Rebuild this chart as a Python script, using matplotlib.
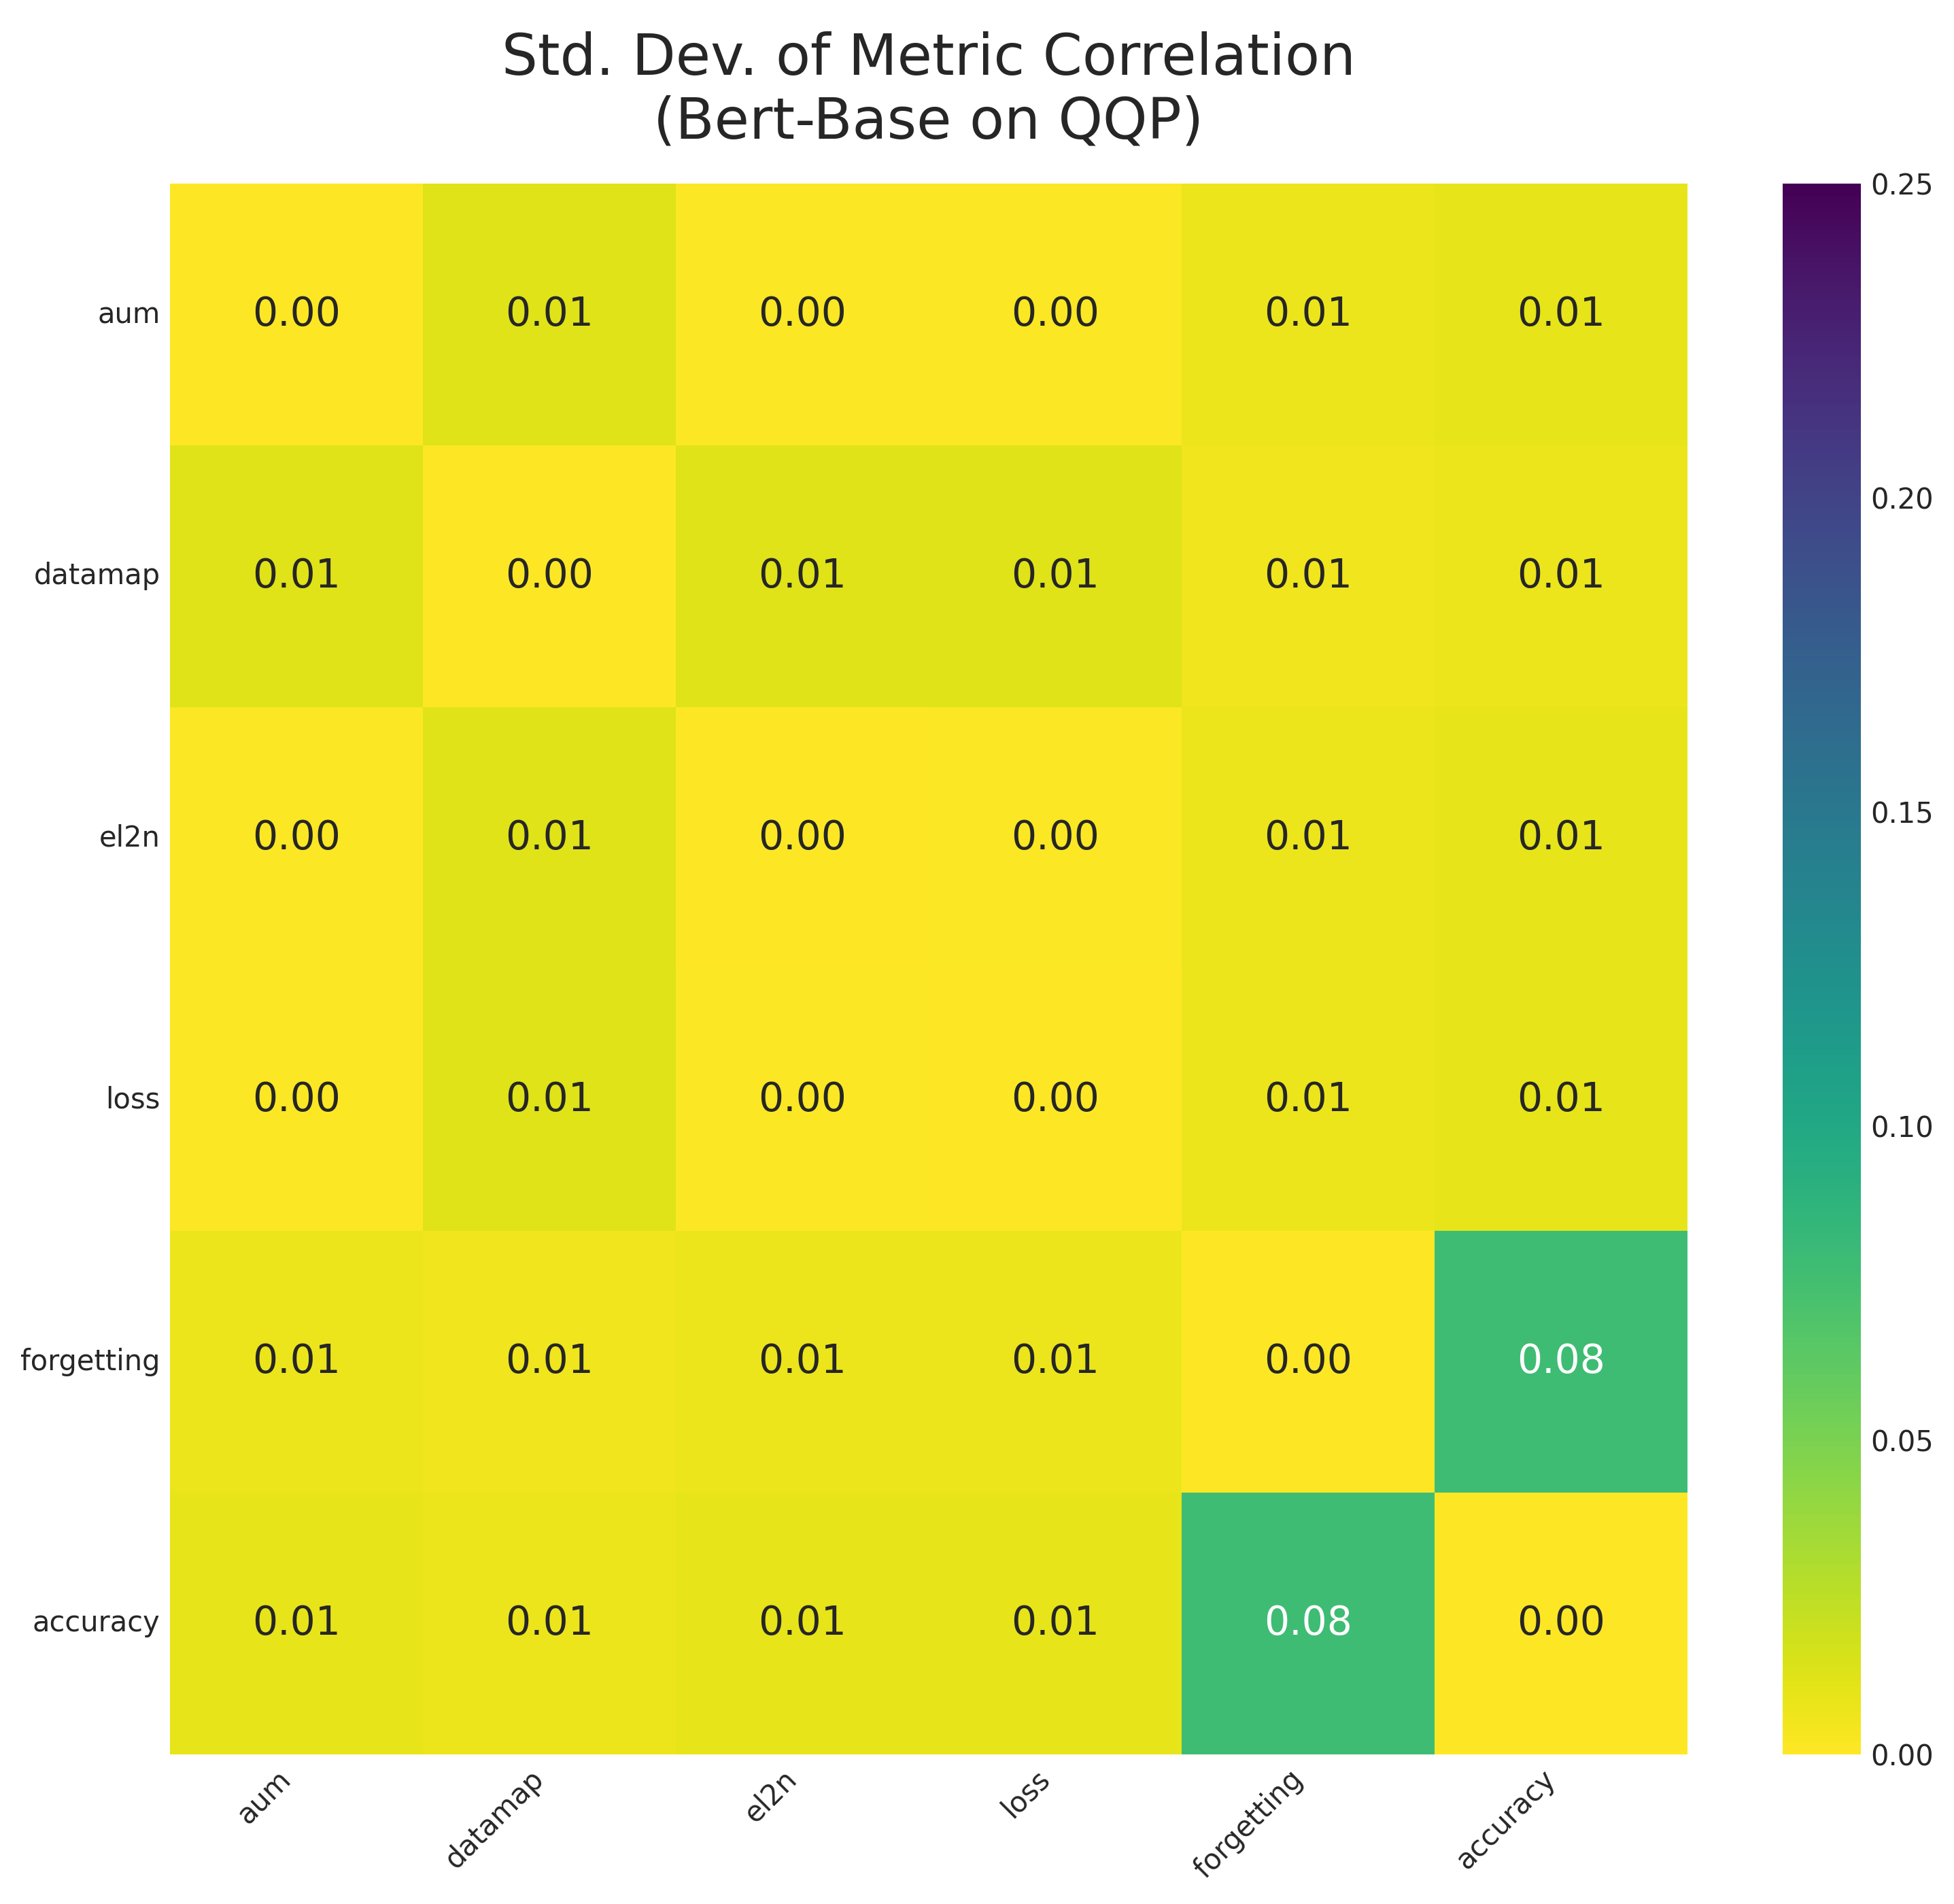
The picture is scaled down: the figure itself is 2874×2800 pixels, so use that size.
import numpy as np
import pandas as pd
import matplotlib
matplotlib.use("Agg")
import matplotlib.pyplot as plt
import seaborn as sns

metrics = ["aum", "datamap", "el2n", "loss", "forgetting", "accuracy"]

row_aum        = [0.000, 0.012, 0.001, 0.001, 0.007, 0.009]
row_datamap    = [0.012, 0.000, 0.012, 0.012, 0.0055, 0.0075]
row_el2n       = [0.001, 0.012, 0.000, 0.001, 0.007, 0.009]
row_loss       = [0.001, 0.012, 0.001, 0.000, 0.0075, 0.0095]
row_forgetting = [0.007, 0.0055, 0.007, 0.0075, 0.000, 0.078]
row_accuracy   = [0.009, 0.0075, 0.009, 0.0095, 0.078, 0.000]

data = pd.DataFrame(
    [row_aum, row_datamap, row_el2n, row_loss, row_forgetting, row_accuracy],
    index=metrics, columns=metrics,
)

sns.set_style("white")
plt.rcParams['font.family'] = ['DejaVu Sans']

fig = plt.figure(figsize=(2874 / 300, 2800 / 300), dpi=300)
ax = fig.add_axes([250 / 2874, 1 - 2580 / 2800, 2232 / 2874, 2310 / 2800])
cax = fig.add_axes([2622 / 2874, 1 - 2580 / 2800, 115 / 2874, 2310 / 2800])

sns.heatmap(
    data, ax=ax, cbar_ax=cax, cmap="viridis_r", vmin=0, vmax=0.25,
    annot=True, fmt=".2f", annot_kws={"size": 14},
)

ax.set_title("Std. Dev. of Metric Correlation\n(Bert-Base on QQP)",
             fontsize=20, pad=16, color=".15")
ax.tick_params(axis="both", length=0, labelsize=10)
plt.setp(ax.get_xticklabels(), rotation=45, ha="right")
plt.setp(ax.get_yticklabels(), rotation=0)
cax.tick_params(length=0, labelsize=10)
cax.set_yticks([0.0, 0.05, 0.10, 0.15, 0.20, 0.25])
cax.set_yticklabels(["0.00", "0.05", "0.10", "0.15", "0.20", "0.25"])

fig.savefig("out.png", dpi=300)
